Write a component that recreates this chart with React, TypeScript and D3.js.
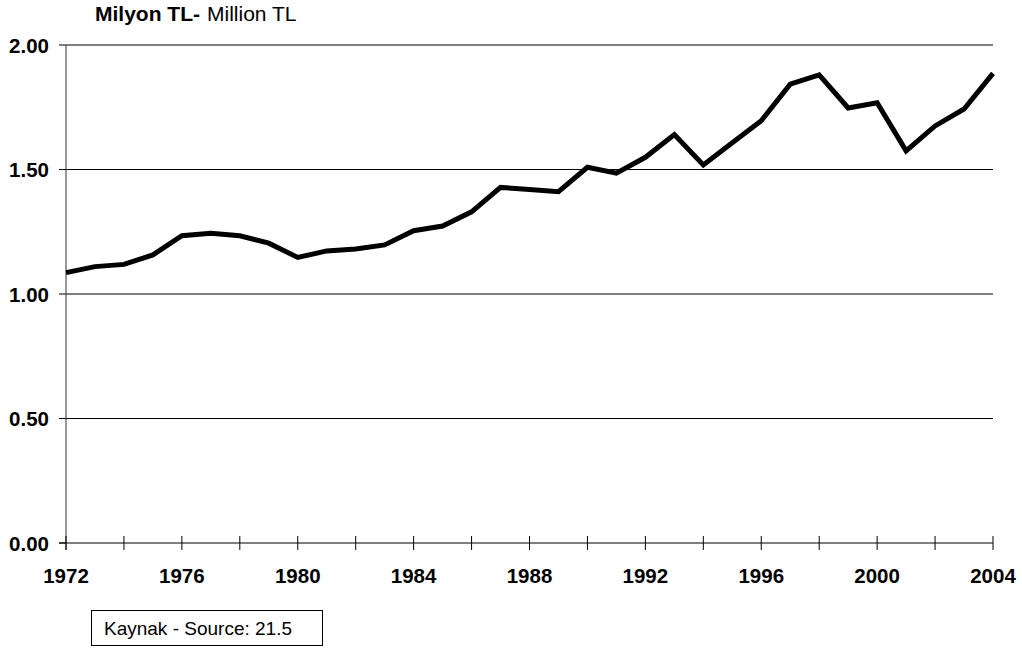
import React from "react";
import * as d3 from "d3";

// years shown on the x axis
const years: number[] = d3.range(1972, 2005);

// Million TL
const values: number[] = [
  1.086, 1.11, 1.119, 1.157, 1.234, 1.244, 1.234, 1.204, 1.147, 1.173, 1.181,
  1.197, 1.254, 1.273, 1.33, 1.428, 1.42, 1.411, 1.509, 1.485, 1.549, 1.64,
  1.518, 1.607, 1.696, 1.843, 1.88, 1.747, 1.768, 1.575, 1.675, 1.743, 1.886,
];

const yTicks: number[] = [0, 0.5, 1, 1.5, 2];
const xTickLabels: number[] = [1972, 1976, 1980, 1984, 1988, 1992, 1996, 2000, 2004];

const titleBold = "Milyon TL-";
const titleNormal = "Million TL";
const sourceText = "Kaynak - Source: 21.5";

const W = 1022;
const H = 650;
const margin = { top: 45, right: 29, bottom: 107, left: 66 };

export default function App() {
  const x = d3
    .scaleLinear()
    .domain([1972, 2004])
    .range([margin.left, W - margin.right]);
  const y = d3
    .scaleLinear()
    .domain([0, 2])
    .range([H - margin.bottom, margin.top]);

  const line = d3
    .line<number>()
    .x((_, i) => x(years[i]))
    .y((d) => y(d));

  const minorTicks = d3.range(1972, 2005, 2);
  const font = "'Liberation Sans', Arial, sans-serif";

  return (
    <svg
      width={W}
      height={H}
      style={{ position: "absolute", left: 0, top: 0, background: "#fff" }}
      fontFamily={font}
    >
      {/* title */}
      <text x={95} y={21} fontSize={21} fontWeight="bold" fill="#000">
        {titleBold}
      </text>
      <text x={207} y={21} fontSize={21} fill="#000">
        {titleNormal}
      </text>

      {/* gridlines + y labels */}
      {yTicks.map((t) => (
        <g key={t}>
          {t > 0 && (
            <line
              x1={x(1972)}
              x2={x(2004)}
              y1={y(t)}
              y2={y(t)}
              stroke="#000"
              strokeWidth={1}
            />
          )}
          <line x1={x(1972) - 7} x2={x(1972)} y1={y(t)} y2={y(t)} stroke="#000" />
          <text
            x={49}
            y={y(t) + 7.5}
            textAnchor="end"
            fontSize={20.5}
            fontWeight="bold"
            fill="#000"
          >
            {t.toFixed(2)}
          </text>
        </g>
      ))}

      {/* y axis */}
      <line
        x1={x(1972)}
        x2={x(1972)}
        y1={y(2)}
        y2={y(0) + 7}
        stroke="#333"
        strokeWidth={1}
      />

      {/* x axis */}
      <line x1={x(1972) - 7} x2={x(2004)} y1={y(0)} y2={y(0)} stroke="#000" />
      {minorTicks.map((yr) => (
        <line
          key={yr}
          x1={x(yr)}
          x2={x(yr)}
          y1={y(0) - 7}
          y2={y(0) + 7}
          stroke="#000"
        />
      ))}
      {xTickLabels.map((yr) => (
        <text
          key={yr}
          x={x(yr)}
          y={583}
          textAnchor="middle"
          fontSize={20.5}
          fontWeight="bold"
          fill="#000"
        >
          {yr}
        </text>
      ))}

      {/* data line */}
      <path
        d={line(values) ?? ""}
        fill="none"
        stroke="#000"
        strokeWidth={5}
        strokeLinejoin="miter"
      />

      {/* source box */}
      <rect x={91.5} y={610.5} width={231} height={35} fill="#fff" stroke="#000" />
      <text x={104} y={635} fontSize={19} fill="#000">
        {sourceText}
      </text>
    </svg>
  );
}
